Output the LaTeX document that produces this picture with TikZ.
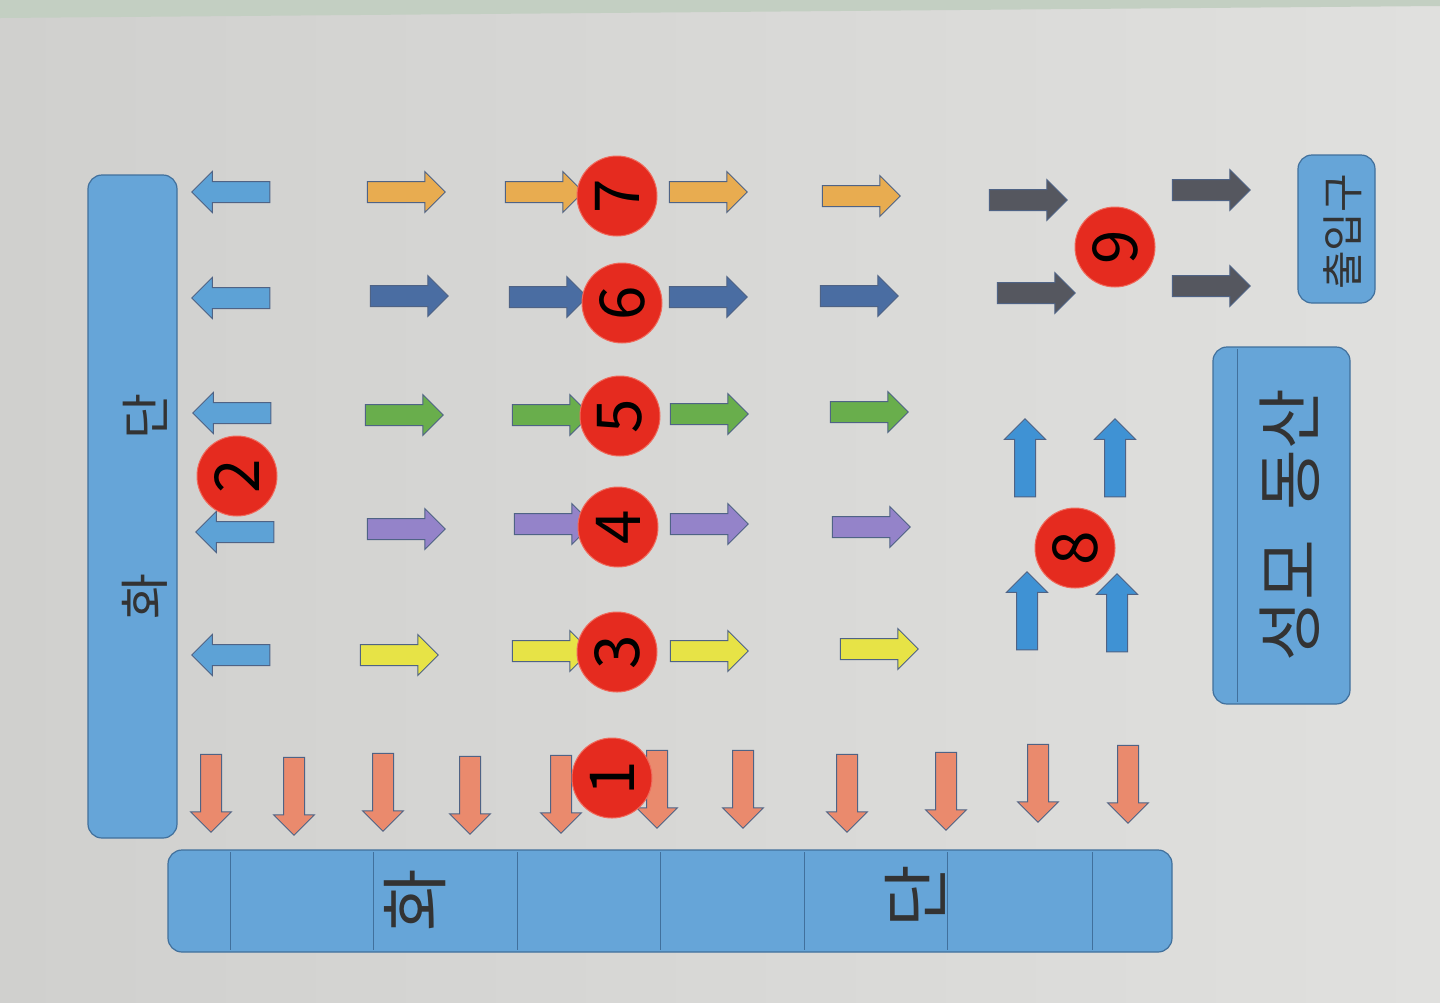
\documentclass[tikz,border=0pt]{standalone}
\usepackage{fontspec}
\setmainfont{Noto Sans CJK KR}
\usepackage{xcolor}
\usepackage{tikz}
\usetikzlibrary{shapes.arrows,positioning}
\definecolor{PaperLeft}{HTML}{D0D0CE}
\definecolor{PaperRight}{HTML}{E0E0DE}
\definecolor{MatGreen}{HTML}{C3CFC2}
\definecolor{BarBlue}{HTML}{66A5D8}
\definecolor{BarEdge}{HTML}{41709C}
\definecolor{SpotRed}{HTML}{E52B1F}
\definecolor{SpotEdge}{HTML}{F06A5C}
\definecolor{ArrowEdge}{HTML}{4F6385}
\definecolor{SkyArrow}{HTML}{5DA2D6}
\definecolor{GoldArrow}{HTML}{E8AC50}
\definecolor{SteelArrow}{HTML}{4A6DA2}
\definecolor{LeafArrow}{HTML}{69AE4C}
\definecolor{LilacArrow}{HTML}{9483C9}
\definecolor{LemonArrow}{HTML}{E7E346}
\definecolor{SalmonArrow}{HTML}{EA8A6D}
\definecolor{SlateArrow}{HTML}{55575F}
\definecolor{UpArrow}{HTML}{3F92D4}
\tikzset{
  walkarrow/.style={single arrow,draw=ArrowEdge,line width=0.5pt,
    minimum height=39pt,inner sep=5pt,single arrow head extend=5pt},
  bedbar/.style={draw=BarEdge,fill=BarBlue,line width=0.6pt,rounded corners=7pt},
  spot/.style={circle,draw=SpotEdge,fill=SpotRed,line width=0.5pt,minimum size=40pt,
    inner sep=0pt,rotate=90,font=\fontsize{31}{31}\selectfont},
  sidetext/.style={rotate=90,text=black!80,inner sep=0pt}
}
\newcommand{\walkarrow}[4]{%
  \node[walkarrow,fill=#1,shape border rotate=#3,at={#4}] (#2) {};%
}

\begin{document}
\begin{tikzpicture}[x=0.5pt,y=-0.5pt]
    % paper
    \fill[left color=PaperLeft,right color=PaperRight] (0,0) rectangle (1440,1002);
    \fill[MatGreen] (0,0) -- (1440,0) -- (1440,6) -- (0,18) -- cycle;
    % flower beds, garden, entrance
    \node[bedbar,minimum width=44.5pt,minimum height=331.5pt] (bedleft) at (132.5,506.5) {};
    \node[bedbar,minimum width=502pt,minimum height=51pt] (bedbottom) at (670,901) {};
    \foreach \xx in {230,373,517,660,804,947,1092}
      \draw[BarEdge,line width=0.4pt] (\xx,852) -- (\xx,950);
    \node[bedbar,minimum width=68.5pt,minimum height=178.5pt] (garden) at (1281.5,525.5) {};
    \draw[BarEdge,line width=0.4pt] (1237,349) -- (1237,702);
    \node[bedbar,minimum width=38.5pt,minimum height=74pt] (gate) at (1336.5,229) {};
    \node[sidetext,font=\fontsize{25}{25}\selectfont] (bedleftA) at (145,596) {화};
    \node[sidetext,font=\fontsize{25}{25}\selectfont] (bedleftB) at (145,416) {단};
    \node[sidetext,font=\fontsize{34}{34}\selectfont] (bedbottomA) at (415,900) {화};
    \node[sidetext,font=\fontsize{34}{34}\selectfont] (bedbottomB) at (915,896) {단};
    \node[sidetext,font=\fontsize{33}{33}\selectfont] (gardentext) at (1290,525) {성모\hspace{0.45em}동산};
    \node[sidetext,font=\fontsize{21}{21}\selectfont] (gatetext) at (1343,232) {출입구};
    % arrows to the left bed
    \walkarrow{SkyArrow}{back7}{180}{(236,192)}
    \walkarrow{SkyArrow}{back6}{180}{(236,298)}
    \walkarrow{SkyArrow}{back5}{180}{(237,413)}
    \walkarrow{SkyArrow}{back4}{180}{(240,532)}
    \walkarrow{SkyArrow}{back3}{180}{(236,655)}
    % row 7
    \walkarrow{GoldArrow}{goA}{0}{(401,192)}
    \walkarrow{GoldArrow}{goB}{0}{(539,192)}
    \walkarrow{GoldArrow}{goC}{0}{(703,192)}
    \walkarrow{GoldArrow}{goD}{0}{(856,196)}
    % row 6
    \walkarrow{SteelArrow}{stA}{0}{(404,296)}
    \walkarrow{SteelArrow}{stB}{0}{(543,297)}
    \walkarrow{SteelArrow}{stC}{0}{(703,297)}
    \walkarrow{SteelArrow}{stD}{0}{(854,296)}
    % row 5
    \walkarrow{LeafArrow}{lfA}{0}{(399,415)}
    \walkarrow{LeafArrow}{lfB}{0}{(546,415)}
    \walkarrow{LeafArrow}{lfC}{0}{(704,414)}
    \walkarrow{LeafArrow}{lfD}{0}{(864,412)}
    % row 4
    \walkarrow{LilacArrow}{liA}{0}{(401,529)}
    \walkarrow{LilacArrow}{liB}{0}{(548,524)}
    \walkarrow{LilacArrow}{liC}{0}{(704,524)}
    \walkarrow{LilacArrow}{liD}{0}{(866,527)}
    % row 3
    \walkarrow{LemonArrow}{leA}{0}{(394,655)}
    \walkarrow{LemonArrow}{leB}{0}{(546,651)}
    \walkarrow{LemonArrow}{leC}{0}{(704,651)}
    \walkarrow{LemonArrow}{leD}{0}{(874,649)}
    % row 1, down to the bottom bed
    \walkarrow{SalmonArrow}{dnA}{270}{(211,788)}
    \walkarrow{SalmonArrow}{dnB}{270}{(294,791)}
    \walkarrow{SalmonArrow}{dnC}{270}{(383,787)}
    \walkarrow{SalmonArrow}{dnD}{270}{(470,790)}
    \walkarrow{SalmonArrow}{dnE}{270}{(561,789)}
    \walkarrow{SalmonArrow}{dnF}{270}{(657,784)}
    \walkarrow{SalmonArrow}{dnG}{270}{(743,784)}
    \walkarrow{SalmonArrow}{dnH}{270}{(847,788)}
    \walkarrow{SalmonArrow}{dnI}{270}{(946,786)}
    \walkarrow{SalmonArrow}{dnJ}{270}{(1038,778)}
    \walkarrow{SalmonArrow}{dnK}{270}{(1128,779)}
    % 8 and 9
    \walkarrow{UpArrow}{upA}{90}{(1025,463)}
    \walkarrow{UpArrow}{upB}{90}{(1115,463)}
    \walkarrow{UpArrow}{upC}{90}{(1027,616)}
    \walkarrow{UpArrow}{upD}{90}{(1117,618)}
    \walkarrow{SlateArrow}{exA}{0}{(1023,200)}
    \walkarrow{SlateArrow}{exB}{0}{(1031,293)}
    \walkarrow{SlateArrow}{exC}{0}{(1206,190)}
    \walkarrow{SlateArrow}{exD}{0}{(1206,286)}
    % numbered spots
    \node[spot] (n1) at (612,778) {1};
    \node[spot] (n2) at (237,476) {2};
    \node[spot] (n3) at (617,652) {3};
    \node[spot] (n4) at (618,527) {4};
    \node[spot] (n5) at (620,416) {5};
    \node[spot] (n6) at (622,303) {6};
    \node[spot] (n7) at (617,196) {7};
    \node[spot] (n8) at (1075,548) {8};
    \node[spot] (n9) at (1115,247) {9};
  \end{tikzpicture}
\end{document}
